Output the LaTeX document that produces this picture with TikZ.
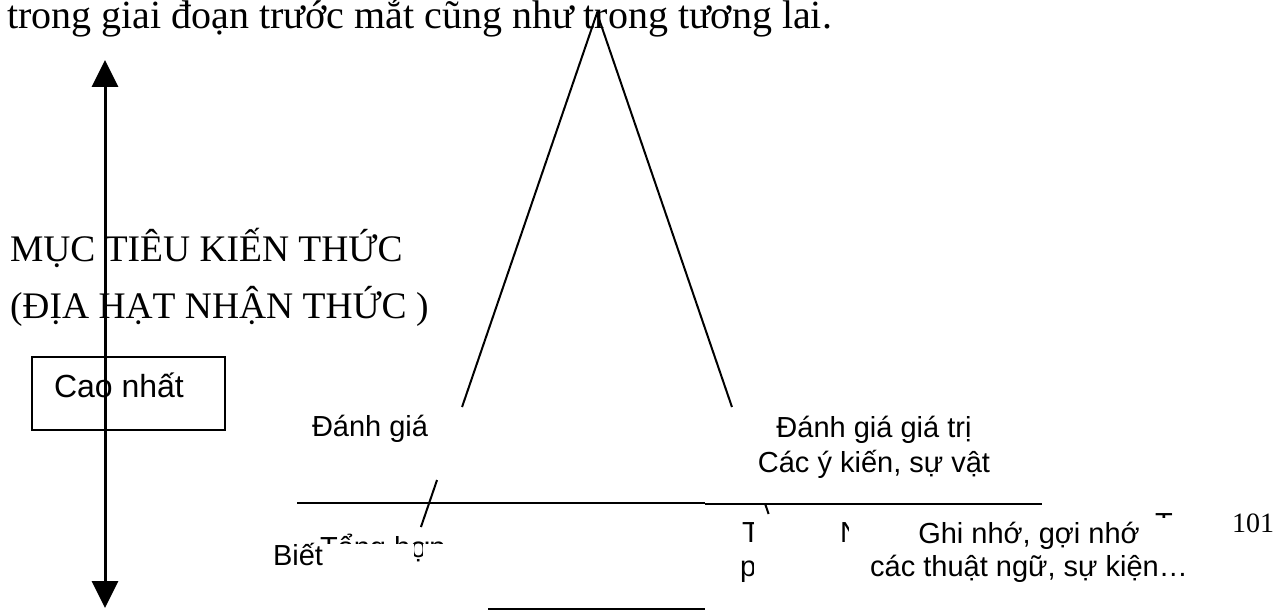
\documentclass[tikz,border=0pt]{standalone}
\usepackage{fontspec}
\setmainfont{Liberation Serif}
\newfontfamily\sansf{Liberation Sans}
\usetikzlibrary{arrows.meta,calc}
\begin{document}
\begin{tikzpicture}[x=1pt,y=-1pt,
  txt/.style={anchor=base west,inner sep=0pt,outer sep=0pt},
  serifbig/.style={txt,font=\fontsize{40}{48}\selectfont},
  heading/.style={txt,font=\fontsize{37.5}{45}\selectfont},
  pagenum/.style={txt,font=\fontsize{28}{33}\selectfont},
  lbl/.style={txt,font=\sansf\fontsize{29}{33}\selectfont},
  lblc/.style={lbl,anchor=base},
  boxlbl/.style={txt,font=\sansf\fontsize{32}{36}\selectfont},
  leg/.style={line width=2pt},
  rulethick/.style={line width=2pt},
  rulethin/.style={line width=1.2pt},
  axis/.style={line width=3pt,{Triangle[length=27pt,width=26pt]}-{Triangle[length=27pt,width=26pt]}},
  framebox/.style={draw,line width=1.5pt}
]
\useasboundingbox (0,0) rectangle (1274,612);

% top text
\node[serifbig] (intro) at (7,29) {trong giai đoạn trước mắt cũng như trong tương lai.};

% headings
\node[heading] (h1) at (10,262) {MỤC TIÊU KIẾN THỨC};
\node[heading] (h2) at (10,318) {(ĐỊA HẠT NHẬN THỨC )};

% Cao nhat box
\draw[framebox] (32,357) rectangle (225,430);
\node[boxlbl] (cao) at (54,397) {Cao nhất};

% vertical axis
\coordinate (atop) at (105,60);
\coordinate (abot) at (105,608);
\draw[axis] (atop) -- (abot);

% triangle
\coordinate (apex) at (597,13);
\coordinate (lfoot) at (393.2,608);
\coordinate (rfoot) at (800.8,608);
\draw[leg] ($(apex)!0.6622!(lfoot)$) -- (apex) -- ($(apex)!0.6622!(rfoot)$);
\draw[leg] ($(apex)!0.7849!(lfoot)$) -- ($(apex)!0.8639!(lfoot)$);
\draw[leg] ($(apex)!0.8252!(rfoot)$) -- ($(apex)!0.8420!(rfoot)$);

% horizontal rules
\coordinate (r1a) at (297,503);
\coordinate (r1b) at (705,503);
\coordinate (r2a) at (705,504);
\coordinate (r2b) at (1042,504);
\draw[rulethick] (r1a) -- (r1b);
\draw[rulethin] (r2a) -- (r2b);
\coordinate (r3a) at (488,609);
\coordinate (r3b) at (705,609);
\draw[rulethick] (r3a) -- (r3b);

% labels
\node[lbl] (dg) at (312,436) {Đánh giá};
\node[lblc] (dgt1) at (874,437) {Đánh giá giá trị};
\node[lblc] (dgt2) at (874,472) {Các ý kiến, sự vật};
\node[lbl] (biet) at (273,565) {Biết};
\node[lblc] (ghi1) at (1029,543) {Ghi nhớ, gợi nhớ};
\node[lblc] (ghi2) at (1029,576) {các thuật ngữ, sự kiện…};
\node[pagenum] (pg) at (1232,532) {101};

% clipped fragments
\begin{scope}
\clip (300,527) rectangle (445,543);
\node[lbl] (th1) at (320,557) {Tổng hợp};
\end{scope}
\begin{scope}
\clip (414,543) rectangle (422,572);
\node[lbl] (th2) at (320,557) {Tổng hợp};
\end{scope}
\begin{scope}
\clip (738,512) rectangle (753.5,590);
\node[lbl] (fr1) at (742,542) {T};
\node[lbl] (fr2) at (740,576) {p};
\end{scope}
\begin{scope}
\clip (838,512) rectangle (848,546);
\node[lbl] (fr3) at (840,542) {N};
\end{scope}
\begin{scope}
\clip (1150,510) rectangle (1180,517.5);
\node[lbl] (fr4) at (1155,533) {T};
\end{scope}
\end{tikzpicture}
\end{document}
